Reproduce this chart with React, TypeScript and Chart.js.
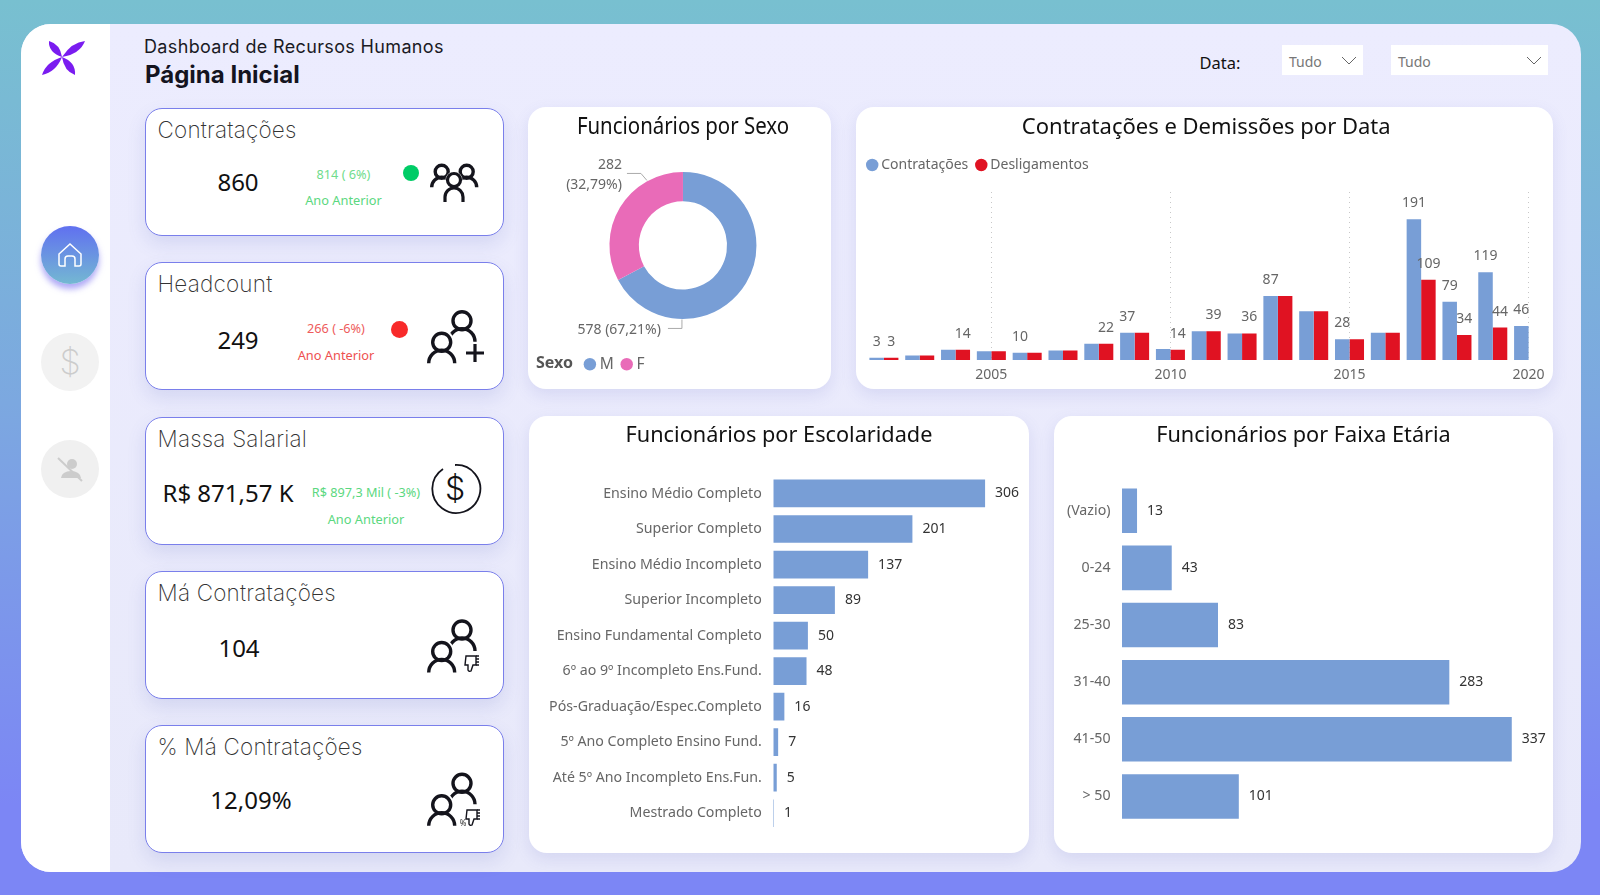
import { useEffect, useRef } from "react"
import { Chart, registerables } from "chart.js"

Chart.register(...registerables)

const years = ["2002", "2003", "2004", "2005", "2006", "2007", "2008", "2009", "2010", "2011", "2012", "2013", "2014", "2015", "2016", "2017", "2018", "2019", "2020"]
const hires = [3, 6, 14, 12, 10, 13, 22, 37, 15, 39, 36, 87, 66, 28, 37, 191, 79, 119, 46]
const exits = [3, 6, 14, 12, 10, 13, 22, 37, 14, 39, 36, 87, 66, 28, 37, 109, 34, 44, null]
const yearTicks = ["2005", "2010", "2015", "2020"]
// Power BI only kept some of the labels
const hiresLabelled = ["2002", "2006", "2009", "2013", "2015", "2017", "2018", "2019", "2020"]
const exitsLabelled = ["2002", "2004", "2008", "2010", "2011", "2012", "2017", "2018", "2019"]

const sexLabels = ["M", "F"]
const sexValues = [578, 282]

const schoolLabels = ["Ensino Médio Completo", "Superior Completo", "Ensino Médio Incompleto", "Superior Incompleto", "Ensino Fundamental Completo", "6º ao 9º Incompleto Ens.Fund.", "Pós-Graduação/Espec.Completo", "5º Ano Completo Ensino Fund.", "Até 5º Ano Incompleto Ens.Fun.", "Mestrado Completo"]
const schoolValues = [306, 201, 137, 89, 50, 48, 16, 7, 5, 1]

const ageLabels = ["(Vazio)", "0-24", "25-30", "31-40", "41-50", "> 50"]
const ageValues = [13, 43, 83, 283, 337, 101]

const BLUE = "#789ED6"
const RED = "#E01222"
const PINK = "#E96BB8"
const FONT = "'Noto Sans', sans-serif"
const HEAD = "Inter, sans-serif"

function ChartCanvas({ left, top, width, height, build }: any) {
  const canvasRef = useRef<HTMLCanvasElement>(null)

  useEffect(() => {
    if (!canvasRef.current) return
    const chart = new Chart(canvasRef.current, build())
    return () => chart.destroy()
  }, [])

  return (
    <div style={{ position: "absolute", left, top, width, height, background: "#fff", borderRadius: 18, boxShadow: "0 6px 16px rgba(90,100,190,.14)" }}>
      <canvas ref={canvasRef} width={width} height={height} style={{ display: "block" }} />
    </div>
  )
}

const titleOpts = (text: string, size: number, top: number, bottom: number, fullSize = true) => ({
  display: true,
  text,
  fullSize,
  color: "#111",
  font: { family: FONT, size, weight: "normal" as const, lineHeight: 1 },
  padding: { top, bottom },
})

const legendLabels = (size: number) => ({
  usePointStyle: true,
  pointStyle: "circle",
  color: "#666",
  padding: 11,
  boxWidth: 4,
  boxHeight: 8.8,
  font: { family: FONT, size },
})

// moves the plot down from the legend
const legendGap = (extra: number) => ({
  id: "legendGap",
  beforeInit(chart: any) {
    const fit = chart.legend.fit
    chart.legend.fit = function () {
      fit.bind(chart.legend)()
      this.height += extra
    }
  },
})

// value text beside each horizontal bar
const barEndLabels = {
  id: "barEndLabels",
  afterDatasetsDraw(chart: any) {
    const { ctx } = chart
    const meta = chart.getDatasetMeta(0)
    ctx.save()
    ctx.font = `14px ${FONT}`
    ctx.fillStyle = "#333"
    ctx.textBaseline = "middle"
    meta.data.forEach((bar: any, i: number) => {
      ctx.fillText(String(chart.data.datasets[0].data[i]), bar.x + 10, bar.y)
    })
    ctx.restore()
  },
}

const columnLabels = {
  id: "columnLabels",
  afterDatasetsDraw(chart: any) {
    const { ctx } = chart
    const shown = [hiresLabelled, exitsLabelled]
    ctx.save()
    ctx.font = `14px ${FONT}`
    ctx.fillStyle = "#666"
    ctx.textAlign = "center"
    ctx.textBaseline = "middle"
    shown.forEach((list, d) => {
      chart.getDatasetMeta(d).data.forEach((bar: any, i: number) => {
        if (!list.includes(years[i])) return
        ctx.fillText(String(chart.data.datasets[d].data[i]), bar.x, bar.y - 16)
      })
    })
    ctx.restore()
  },
}

const donutLabels = {
  id: "donutLabels",
  afterDatasetsDraw(chart: any) {
    const { ctx } = chart
    const arc = chart.getDatasetMeta(0).data[0]
    const { x, y } = arc
    const total = sexValues.reduce((a, b) => a + b, 0)
    const pct = (v: number) => `(${((v / total) * 100).toFixed(2).replace(".", ",")}%)`
    ctx.save()
    ctx.font = `14px ${FONT}`
    ctx.fillStyle = "#666"
    ctx.textAlign = "right"
    ctx.textBaseline = "middle"
    ctx.fillText(String(sexValues[1]), x - 61, y - 80)
    ctx.fillText(pct(sexValues[1]), x - 61, y - 60)
    ctx.fillText(`${sexValues[0]} ${pct(sexValues[0])}`, x - 22, y + 85)
    ctx.strokeStyle = "#aaa"
    ctx.lineWidth = 1
    ctx.beginPath()
    ctx.moveTo(x - 56, y - 72)
    ctx.lineTo(x - 42, y - 72)
    ctx.lineTo(x - 36, y - 65)
    ctx.moveTo(x - 15, y + 83)
    ctx.lineTo(x - 1, y + 83)
    ctx.lineTo(x - 1, y + 74)
    ctx.stroke()
    // legend caption, the library legend has no inline title
    ctx.font = `bold 16px ${FONT}`
    ctx.fillStyle = "#555"
    ctx.textAlign = "left"
    ctx.fillText("Sexo", 8, chart.legend.top + chart.legend.height / 2)
    ctx.restore()
  },
}

const buildDonut = () => ({
  type: "doughnut" as const,
  data: {
    labels: sexLabels,
    datasets: [{ data: sexValues, backgroundColor: [BLUE, PINK], borderWidth: 0, radius: 73.5 }],
  },
  options: {
    responsive: false,
    animation: false as const,
    cutout: "60%",
    layout: { padding: { left: 48.9, right: 42, bottom: 7 } },
    plugins: {
      title: titleOpts("Funcionários por Sexo", 23.4, 9, 6),
      tooltip: { enabled: false },
      legend: {
        position: "bottom" as const,
        align: "start" as const,
        labels: legendLabels(15.5),
      },
    },
  },
  plugins: [donutLabels],
})

const buildColumns = () => ({
  type: "bar" as const,
  data: {
    labels: years,
    datasets: [
      { label: "Contratações", data: hires, backgroundColor: BLUE, pointStyle: "circle" },
      { label: "Desligamentos", data: exits, backgroundColor: RED, pointStyle: "circle" },
    ],
  },
  options: {
    responsive: false,
    animation: false as const,
    layout: { padding: { left: 3.2, right: 6.5, bottom: 0 } },
    datasets: { bar: { categoryPercentage: 0.81, barPercentage: 1 } },
    scales: {
      x: {
        offset: true,
        grid: {
          offset: false,
          drawTicks: false,
          color: (c: any) => (yearTicks.includes(years[c.index]) ? "#c8c8c8" : "transparent"),
        },
        border: { display: false, dash: [1, 4] },
        ticks: {
          autoSkip: false,
          maxRotation: 0,
          padding: 8,
          color: "#666",
          font: { family: FONT, size: 14, lineHeight: 1 },
          callback: (_v: any, i: number) => (yearTicks.includes(years[i]) ? years[i] : ""),
        },
        // fixed strip under the plot, no extra room for the end labels
        afterFit: (s: any) => {
          s.height = 29
          s.paddingLeft = 0
          s.paddingRight = 0
        },
      },
      y: {
        min: 0,
        max: 228,
        grid: { display: false },
        border: { display: false },
        ticks: { display: false },
        afterFit: (s: any) => {
          s.width = 6.8
        },
      },
    },
    plugins: {
      title: titleOpts("Contratações e Demissões por Data", 22, 9.5, 8.5, false),
      tooltip: { enabled: false },
      legend: {
        position: "top" as const,
        align: "start" as const,
        labels: legendLabels(14),
      },
    },
  },
  plugins: [columnLabels, legendGap(10)],
})

const buildHBars = (title: string, labels: string[], values: number[], opt: any) => ({
  type: "bar" as const,
  data: { labels, datasets: [{ data: values, backgroundColor: BLUE }] },
  options: {
    responsive: false,
    animation: false as const,
    indexAxis: "y" as const,
    layout: { padding: { left: 10, right: 10, bottom: opt.bottom } },
    datasets: { bar: { categoryPercentage: 0.78, barPercentage: 1 } },
    scales: {
      x: { display: false, min: 0, max: opt.max },
      y: {
        grid: { display: false, drawTicks: false },
        border: { display: false },
        ticks: { autoSkip: false, padding: 11.5, color: "#666", font: { family: FONT, size: 14.2 } },
        afterFit: (s: any) => {
          s.width = opt.axisWidth
        },
      },
    },
    plugins: {
      title: titleOpts(title, 21.7, 9, opt.gap),
      legend: { display: false },
      tooltip: { enabled: false },
    },
  },
  plugins: [barEndLabels],
})

function Txt({ x, y, size = 14, color = "#111", family = FONT, weight = 400, align = "left", spacing = 0, children }: any) {
  const tx = align === "center" ? "-50%" : "0"
  return (
    <div style={{ position: "absolute", left: x, top: y, transform: `translate(${tx},-50%)`, fontSize: size, color, fontFamily: family, fontWeight: weight, letterSpacing: spacing, whiteSpace: "nowrap", lineHeight: 1.2 }}>
      {children}
    </div>
  )
}

function Kpi({ top, title }: { top: number; title: string }) {
  return (
    <div style={{ position: "absolute", left: 144.5, top, width: 359, height: 128, boxSizing: "border-box", background: "#fff", border: "1.7px solid #7A7FEB", borderRadius: 17, boxShadow: "0 8px 18px rgba(90,100,190,.15)" }}>
      <Txt x={12} y={20.5} size={22.5} color="#333" family={HEAD} weight={200} spacing={0.2}>{title}</Txt>
    </div>
  )
}

function Slicer({ left, width }: { left: number; width: number }) {
  return (
    <div style={{ position: "absolute", left, top: 45, width, height: 30, background: "#fff" }}>
      <Txt x={7} y={17} size={14} color="#777">Tudo</Txt>
      <svg style={{ position: "absolute", right: 6, top: 10 }} width={16} height={12}>
        <path d="M1 2 L8 9 L15 2" fill="none" stroke="#666" strokeWidth={1} />
      </svg>
    </div>
  )
}

function Person({ cx, cy, r, w, sw = 3.4 }: any) {
  return (
    <g fill="none" stroke="#14141c" strokeWidth={sw}>
      <circle cx={cx} cy={cy} r={r} />
      <path d={`M${cx - w} ${cy + r + w - 1} a${w} ${w} 0 0 1 ${2 * w} 0`} />
    </g>
  )
}

function TwoPeople({ y }: { y: number }) {
  return (
    <g>
      <Person cx={462} cy={y} r={9} w={13} />
      <circle cx={441.7} cy={y + 21.5} r={12.5} fill="#fff" />
      <Person cx={441.7} cy={y + 21.5} r={9} w={13} />
    </g>
  )
}

function Thumb({ x, y }: { x: number; y: number }) {
  return (
    <g fill="none" stroke="#14141c" strokeWidth={1.4}>
      <path d={`M${x - 6} ${y - 6} h10 v9 h-3 l-2 6 a2 2 0 0 1 -3 -1 l0 -5 h-3 z`} />
      <path d={`M${x + 4} ${y - 3} h3 M${x + 4} ${y} h3 M${x + 4} ${y + 3} h3 M${x + 4} ${y - 6} h3`} />
    </g>
  )
}

function Icons() {
  const petals = [
    "M62 57 Q72 42 85 41 Q80 54 62 57",
    "M62 57 Q48 52 49 41 Q60 44 62 57",
    "M62 57 Q56 72 42 75 Q46 62 62 57",
    "M62 57 Q76 62 75 75 Q64 71 62 57",
  ]
  return (
    <svg width={1600} height={895} style={{ position: "absolute", left: 0, top: 0, pointerEvents: "none" }}>
      {petals.map((d) => (
        <path key={d} d={d} fill="#7A1CF0" />
      ))}
      {/* home */}
      <path d="M59 254 L70 244 L81 254 V264 a2 2 0 0 1 -2 2 H75 V259 a3 3 0 0 0 -3 -3 H68 a3 3 0 0 0 -3 3 V266 H61 a2 2 0 0 1 -2 -2 Z" fill="none" stroke="#fff" strokeWidth={1.5} />
      {/* muted person */}
      <g fill="#ccc">
        <circle cx={72} cy={464} r={5} />
        <path d="M61 478 a10 7 0 0 1 20 0 Z" />
      </g>
      <path d="M58 458 L82 481" stroke="#ccc" strokeWidth={2} />
      {/* group */}
      <Person cx={441.7} cy={171.7} r={6.5} w={10} />
      <Person cx={466.7} cy={171.7} r={6.5} w={10} />
      <circle cx={454} cy={180} r={8.5} fill="#fff" />
      <path d="M444 203 v-6 a10 10 0 0 1 20 0 v6" fill="#fff" stroke="none" />
      <circle cx={454} cy={180} r={6.5} fill="none" stroke="#14141c" strokeWidth={3.2} />
      <path d="M445 202 v-5 a9 9 0 0 1 18 0 v5" fill="none" stroke="#14141c" strokeWidth={3.2} />
      {/* headcount */}
      <TwoPeople y={320.7} />
      <path d="M466 353 H484 M475 344 V362" stroke="#14141c" strokeWidth={3.2} />
      {/* salary */}
      <path d="M443 469 A24 24 0 1 0 455 465" fill="none" stroke="#14141c" strokeWidth={1.8} />
      {/* bad hires */}
      <TwoPeople y={630} />
      <Thumb x={472} y={662} />
      <TwoPeople y={783.3} />
      <Thumb x={473} y={816} />
      <text x={463} y={826} fontSize={8} fontFamily={FONT} fill="#333" textAnchor="middle">%</text>
    </svg>
  )
}

export default function App() {
  return (
    <div style={{ position: "fixed", left: 0, top: 0, width: 1600, height: 895, overflow: "hidden", background: "linear-gradient(180deg,#78C0D0 0%,#7CA8E0 45%,#7C86F5 90%)" }}>
      <div style={{ position: "absolute", left: 21, top: 24, width: 1560, height: 848, borderRadius: 30, overflow: "hidden", background: "linear-gradient(180deg,#ECECFE,#E8E9FA)" }}>
        <div style={{ position: "absolute", left: 0, top: 0, width: 89, height: 848, background: "#fff" }} />
      </div>

      <div style={{ position: "absolute", left: 41, top: 226, width: 58, height: 58, borderRadius: "50%", background: "linear-gradient(180deg,#6070F0,#74B8D2)", boxShadow: "0 5px 6px rgba(120,110,240,.6)" }} />
      <div style={{ position: "absolute", left: 41, top: 333, width: 58, height: 58, borderRadius: "50%", background: "#F2F2F2" }} />
      <div style={{ position: "absolute", left: 41, top: 440, width: 58, height: 58, borderRadius: "50%", background: "#F0F0F0" }} />
      <Txt x={70} y={362} size={34} color="#ccc" family={HEAD} weight={200} align="center">$</Txt>

      <Txt x={144} y={46.5} size={18} color="#1a1a24" family={HEAD} weight={400} spacing={0.35}>Dashboard de Recursos Humanos</Txt>
      <Txt x={145} y={75} size={24} color="#14141f" family={HEAD} weight={700}>Página Inicial</Txt>
      <Txt x={1199.5} y={63} size={16.5} color="#111">Data:</Txt>
      <Slicer left={1282} width={81} />
      <Slicer left={1391} width={157} />

      <Kpi top={107.5} title="Contratações" />
      <Kpi top={261.5} title="Headcount" />
      <Kpi top={416.5} title="Massa Salarial" />
      <Kpi top={570.5} title="Má Contratações" />
      <Kpi top={724.5} title="% Má Contratações" />

      <Txt x={238} y={182} size={24} align="center">860</Txt>
      <Txt x={238} y={340} size={24} align="center">249</Txt>
      <Txt x={228} y={492.5} size={24} align="center">R$ 871,57 K</Txt>
      <Txt x={239} y={648} size={24} align="center">104</Txt>
      <Txt x={251} y={800} size={24} align="center">12,09%</Txt>

      <Txt x={343.5} y={175} size={12.7} color="#6FDC8C" align="center">814 ( 6%)</Txt>
      <Txt x={343.5} y={201} size={12.8} color="#5BD880" align="center">Ano Anterior</Txt>
      <Txt x={336} y={329} size={12.7} color="#EE5C5C" align="center">266 ( -6%)</Txt>
      <Txt x={336} y={356} size={12.8} color="#EE5050" align="center">Ano Anterior</Txt>
      <Txt x={366} y={492.5} size={12.7} color="#5BD880" align="center">R$ 897,3 Mil ( -3%)</Txt>
      <Txt x={366} y={520} size={12.8} color="#5BD880" align="center">Ano Anterior</Txt>
      <div style={{ position: "absolute", left: 403, top: 165, width: 16, height: 16, borderRadius: "50%", background: "#00CC66" }} />
      <div style={{ position: "absolute", left: 391, top: 321, width: 17, height: 17, borderRadius: "50%", background: "#F82A2A" }} />
      <Txt x={455} y={489} size={32} family={HEAD} weight={300} align="center">$</Txt>

      <ChartCanvas left={528} top={107} width={303} height={282} build={buildDonut} />
      <ChartCanvas left={856} top={107} width={697} height={282} build={buildColumns} />
      <ChartCanvas left={529} top={416} width={500} height={437} build={() => buildHBars("Funcionários por Escolaridade", schoolLabels, schoolValues, { max: 355, axisWidth: 234.3, gap: 29, bottom: 22 })} />
      <ChartCanvas left={1054} top={416} width={499} height={437} build={() => buildHBars("Funcionários por Faixa Etária", ageLabels, ageValues, { max: 364, axisWidth: 58, gap: 35.5, bottom: 28 })} />

      <Icons />
    </div>
  )
}
